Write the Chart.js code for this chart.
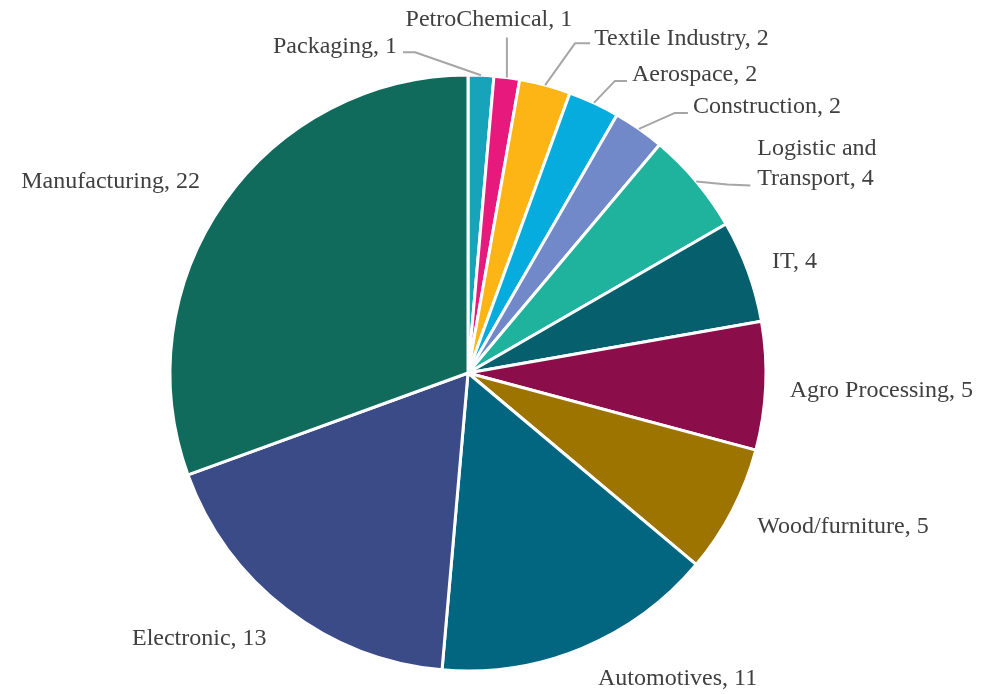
<!DOCTYPE html>
<html>
<head>
<meta charset="utf-8">
<script src="https://cdn.jsdelivr.net/npm/chart.js@4/dist/chart.umd.min.js"></script>
<style>
  html, body { margin: 0; padding: 0; background: #ffffff; }
  #wrap { width: 987px; height: 694px; position: relative; }
</style>
</head>
<body>
<div id="wrap"><canvas id="pie"></canvas></div>
<script>
// Sectors, in drawing order (clockwise from 12 o'clock)
const categories = [
  'Packaging', 'PetroChemical', 'Textile Industry', 'Aerospace', 'Construction',
  'Logistic and Transport', 'IT', 'Agro Processing', 'Wood/furniture',
  'Automotives', 'Electronic', 'Manufacturing'
];
const counts = [1, 1, 2, 2, 2, 4, 4, 5, 5, 11, 13, 22];
const sliceColors = [
  '#17a3b9', '#e8197d', '#fdb515', '#05acdd', '#7189c8',
  '#1fb39d', '#055f6c', '#8b0e4a', '#9e7400',
  '#026680', '#3a4b88', '#106b5d'
];

// Label placement relative to the outer midpoint of each arc.
// dx/dy: text anchor (baseline), align: text alignment,
// leader: extra points of the connector line (last one sits next to the text).
const labelLayout = [
  { dx: -84, dy: -22, align: 'right',  leader: [[-66, -23], [-78, -23]] },
  { dx: -18, dy: -52, align: 'center', leader: [[0, -40]] },
  { dx: 49,  dy: -40, align: 'left',   leader: [[30, -42], [45, -42]] },
  { dx: 38,  dy: -22, align: 'left',   leader: [[21, -22], [33, -22]] },
  { dx: 54,  dy: -16, align: 'left',   leader: [[36, -16], [49, -16]] },
  { dx: 61,  dy: -26, align: 'left',   leader: [[31, 3], [54, 4]], wrapWords: 2 },
  { dx: 24,  dy: -3,  align: 'left' },
  { dx: 24,  dy: 11,  align: 'left' },
  { dx: 25,  dy: 22,  align: 'left' },
  { dx: 16,  dy: 37,  align: 'left' },
  { dx: -20, dy: 36,  align: 'right' },
  { dx: -24, dy: -14, align: 'right' }
];

const labelFont = '24px "Liberation Serif", "Times New Roman", serif';
const labelColor = '#404040';
const leaderColor = '#a6a6a6';

const sliceLabels = {
  id: 'sliceLabels',
  afterDatasetsDraw(chart) {
    const ctx = chart.ctx;
    const meta = chart.getDatasetMeta(0);
    ctx.save();
    ctx.font = labelFont;
    ctx.fillStyle = labelColor;
    ctx.textBaseline = 'alphabetic';
    meta.data.forEach((arc, i) => {
      const p = arc.getProps(['x', 'y', 'startAngle', 'endAngle', 'outerRadius'], true);
      const mid = (p.startAngle + p.endAngle) / 2;
      const ax = p.x + Math.cos(mid) * p.outerRadius;
      const ay = p.y + Math.sin(mid) * p.outerRadius;
      const lay = labelLayout[i];

      if (lay.leader) {
        ctx.beginPath();
        ctx.strokeStyle = leaderColor;
        ctx.lineWidth = 2;
        ctx.lineJoin = 'round';
        ctx.moveTo(ax, ay);
        lay.leader.forEach(([lx, ly]) => ctx.lineTo(ax + lx, ay + ly));
        ctx.stroke();
      }

      const text = categories[i] + ', ' + counts[i];
      let lines = [text];
      if (lay.wrapWords) {
        const words = text.split(' ');
        lines = [words.slice(0, lay.wrapWords).join(' '), words.slice(lay.wrapWords).join(' ')];
      }
      ctx.textAlign = lay.align;
      lines.forEach((ln, k) => ctx.fillText(ln, ax + lay.dx, ay + lay.dy + k * 30));
    });
    ctx.restore();
  }
};

new Chart(document.getElementById('pie'), {
  type: 'pie',
  data: {
    labels: categories,
    datasets: [{
      data: counts,
      backgroundColor: sliceColors,
      borderColor: '#ffffff',
      borderWidth: 3,
      radius: 298
    }]
  },
  options: {
    responsive: true,
    maintainAspectRatio: false,
    animation: false,
    layout: { padding: { left: 0, right: 51, top: 52, bottom: 0 } },
    plugins: {
      legend: { display: false },
      tooltip: { enabled: false }
    }
  },
  plugins: [sliceLabels]
});
</script>
</body>
</html>
